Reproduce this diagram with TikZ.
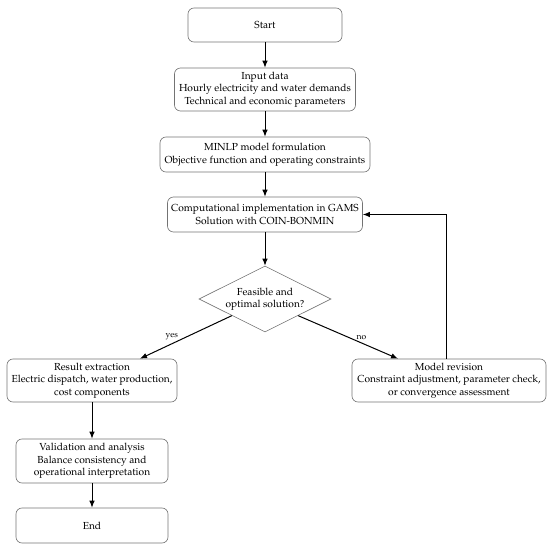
\documentclass[tikz,border=0pt]{standalone}
\usepackage[T1]{fontenc}
\usepackage{mathpazo}
\usetikzlibrary{arrows.meta,shapes.geometric,calc}
\begin{document}
\begin{tikzpicture}[x=1pt,y=-1pt,
  box/.style={draw=black!55, rounded corners=6pt, align=center, font=\fontsize{10.2}{12.5}\selectfont, inner sep=0pt, line width=0.6pt},
  dia/.style={draw=black!55, shape=diamond, shape aspect=2, align=center, font=\fontsize{10.2}{12.5}\selectfont, inner sep=0pt, line width=0.6pt},
  arr/.style={-{Latex[length=7pt,width=5.5pt]}, line width=1pt},
  lbl/.style={font=\fontsize{8.5}{9}\selectfont, inner sep=1pt}]
\useasboundingbox (0,0) rectangle (550,549);
\node[box, minimum width=154pt, minimum height=34pt] (start) at (265,25) {Start};
\node[box, minimum width=181pt, minimum height=43pt] (input) at (265,89.5) {Input data\\Hourly electricity and water demands\\Technical and economic parameters};
\node[box, minimum width=210pt, minimum height=35pt] (minlp) at (265,154.5) {MINLP model formulation\\Objective function and operating constraints};
\node[box, minimum width=195pt, minimum height=35pt] (comp) at (265,214.5) {Computational implementation in GAMS\\Solution with COIN-BONMIN};
\node[dia, minimum width=132pt, minimum height=66pt] (feas) at (265,299) {Feasible and\\optimal solution?};
\node[box, minimum width=170pt, minimum height=43pt] (res) at (92,380.5) {Result extraction\\Electric dispatch, water production,\\cost components};
\node[box, minimum width=194pt, minimum height=43pt] (rev) at (449,380.5) {Model revision\\Constraint adjustment, parameter check,\\or convergence assessment};
\node[box, minimum width=152pt, minimum height=44pt] (val) at (92,461) {Validation and analysis\\Balance consistency and\\operational interpretation};
\node[box, minimum width=152pt, minimum height=35pt] (fin) at (92,525.5) {End};
\coordinate (ys) at ($(feas.west)!0.5!(feas.south)$);
\coordinate (ns) at ($(feas.east)!0.5!(feas.south)$);
\draw[arr] (start) -- (input);
\draw[arr] (input) -- (minlp);
\draw[arr] (minlp) -- (comp);
\draw[arr] (comp) -- (feas);
\draw[arr] (ys) -- (res.north -| 140,0) node[lbl, pos=0.58, above left=-1pt] {yes};
\draw[arr] (ns) -- (rev.north -| 398,0) node[lbl, pos=0.58, above right=-1pt] {no};
\draw[arr] (res) -- (val);
\draw[arr] (val) -- (fin);
\draw[arr] (rev.north -| 446,0) |- (comp.east);
\end{tikzpicture}
\end{document}
